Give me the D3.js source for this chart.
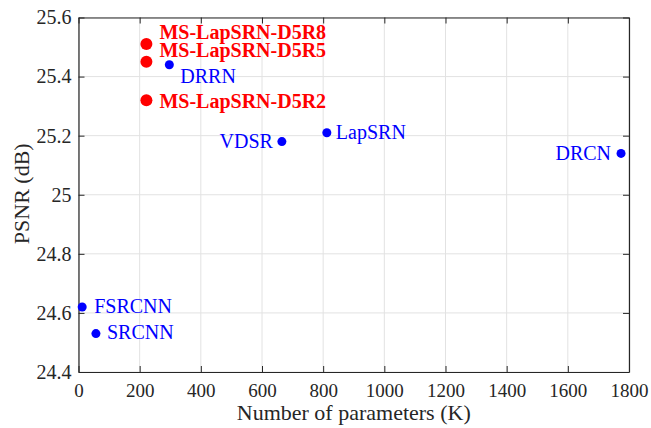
<!DOCTYPE html>
<html>
<head>
<meta charset="utf-8">
<script src="https://cdn.jsdelivr.net/npm/d3@7"></script>
<style>
  html, body { margin: 0; padding: 0; background: #fff; }
  svg { display: block; }
</style>
</head>
<body>
<svg id="chart" width="651" height="428"></svg>
<script>
// ---- data ----
const methods   = ["MS-LapSRN-D5R8", "MS-LapSRN-D5R5", "MS-LapSRN-D5R2", "DRRN", "VDSR", "LapSRN", "DRCN", "FSRCNN", "SRCNN"];
const params    = [222, 222, 222, 297, 665, 812, 1774, 12, 57];
const psnr      = [25.51, 25.45, 25.32, 25.44, 25.18, 25.21, 25.14, 24.62, 24.53];
const isOurs    = [true, true, true, false, false, false, false, false, false];
const xTicks    = [0, 200, 400, 600, 800, 1000, 1200, 1400, 1600, 1800];
const yTicks    = [24.4, 24.6, 24.8, 25, 25.2, 25.4, 25.6];
// label placement (pixel offsets from marker, anchor)
const labelDx     = [13, 13, 13, 11, -9, 9, -10, 12, 11];
const labelDy     = [-5, -5, 7.5, 18, 6.5, 6, 6.5, 6.3, 5.6];
const labelAnchor = ["start", "start", "start", "start", "end", "start", "end", "start", "start"];

// ---- layout ----
const FONT = "Liberation Serif";
const svg = d3.select("#chart").style("font-family", FONT);
const pLeft = 78.5, pRight = 629, pTop = 17.5, pBottom = 372;
const x = d3.scaleLinear().domain([0, 1800]).range([pLeft, pRight]);
const y = d3.scaleLinear().domain([24.4, 25.6]).range([pBottom, pTop]);
const axisColor = "#262626";
const tickLen = 6;

// grid
const grid = svg.append("g");
grid.selectAll("line.gx").data(xTicks).join("line")
  .attr("x1", d => x(d)).attr("x2", d => x(d)).attr("y1", pTop).attr("y2", pBottom)
  .attr("stroke", "#e2e2e2").attr("stroke-width", 1);
grid.selectAll("line.gy").data(yTicks).join("line")
  .attr("y1", d => y(d)).attr("y2", d => y(d)).attr("x1", pLeft).attr("x2", pRight)
  .attr("stroke", "#e2e2e2").attr("stroke-width", 1);

// axes
const fmtX = d => String(d);
const fmtY = d => (d === 25 ? "25" : d.toFixed(1));

const xAxis = svg.append("g").attr("transform", `translate(0,${pBottom})`)
  .call(d3.axisBottom(x).tickValues(xTicks).tickFormat(fmtX).tickSizeInner(-tickLen).tickSizeOuter(0).tickPadding(12));
const xAxisTop = svg.append("g").attr("transform", `translate(0,${pTop})`)
  .call(d3.axisTop(x).tickValues(xTicks).tickFormat("").tickSizeInner(-tickLen).tickSizeOuter(0));
const yAxis = svg.append("g").attr("transform", `translate(${pLeft},0)`)
  .call(d3.axisLeft(y).tickValues(yTicks).tickFormat(fmtY).tickSizeInner(-tickLen).tickSizeOuter(0).tickPadding(7));
const yAxisRight = svg.append("g").attr("transform", `translate(${pRight},0)`)
  .call(d3.axisRight(y).tickValues(yTicks).tickFormat("").tickSizeInner(-tickLen).tickSizeOuter(0));

[xAxis, xAxisTop, yAxis, yAxisRight].forEach(g => {
  g.attr("font-family", FONT).attr("font-size", 19);
  g.select(".domain").attr("stroke", axisColor).attr("stroke-width", 1.2);
  g.selectAll(".tick line").attr("stroke", axisColor).attr("stroke-width", 1);
  g.selectAll(".tick text").attr("fill", axisColor)
    .style("font-family", FONT).style("font-size", "19px");
});
yAxis.selectAll(".tick text").style("font-size", "20px");

// axis labels
svg.append("text")
  .attr("x", (pLeft + pRight) / 2).attr("y", 420)
  .attr("text-anchor", "middle").attr("fill", axisColor)
  .style("font-family", FONT).style("font-size", "22px")
  .text("Number of parameters (K)");
svg.append("text")
  .attr("transform", `translate(28.5,${(pTop + pBottom) / 2 - 1}) rotate(-90)`)
  .attr("text-anchor", "middle").attr("fill", axisColor)
  .style("font-family", FONT).style("font-size", "22px")
  .text("PSNR (dB)");

// points
const idx = d3.range(methods.length);
svg.append("g").selectAll("circle").data(idx).join("circle")
  .attr("cx", i => x(params[i])).attr("cy", i => y(psnr[i]))
  .attr("r", i => isOurs[i] ? 6 : 4.5)
  .attr("fill", i => isOurs[i] ? "#ff0000" : "#0000ff");

// labels
svg.append("g").selectAll("text").data(idx).join("text")
  .attr("x", i => x(params[i]) + labelDx[i])
  .attr("y", i => y(psnr[i]) + labelDy[i])
  .attr("text-anchor", i => labelAnchor[i])
  .attr("fill", i => isOurs[i] ? "#ff0000" : "#0000ff")
  .style("font-family", FONT)
  .style("font-weight", i => isOurs[i] ? "bold" : "normal")
  .style("font-size", "20px")
  .text(i => methods[i]);
</script>
</body>
</html>
